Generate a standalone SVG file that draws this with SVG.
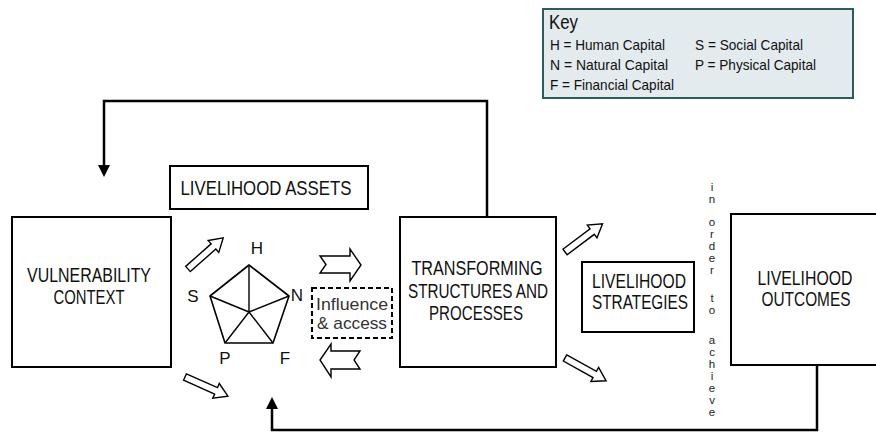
<svg xmlns="http://www.w3.org/2000/svg" xmlns:xlink="http://www.w3.org/1999/xlink" width="876" height="432" viewBox="0 0 876 432">
<style>
.box{fill:#fff;stroke:#000;stroke-width:2}
.lbl{font-family:"Liberation Sans",Arial,sans-serif;font-size:21px;fill:#111;text-anchor:middle}
.key{font-family:"Liberation Sans",Arial,sans-serif;font-size:14.5px;fill:#111}
.cap{font-family:"Liberation Sans",Arial,sans-serif;font-size:17px;fill:#111;text-anchor:middle}
.vt{font-family:"Liberation Sans",Arial,sans-serif;font-size:11.5px;fill:#1e1e1e;writing-mode:vertical-rl;text-orientation:upright}
.ha{fill:#fff;stroke:#000;stroke-width:1.4;stroke-linejoin:miter}
.fb{fill:none;stroke:#000;stroke-width:2.5}
</style>
<defs>
<polygon id="harrow" points="0,-3.5 34,-3.5 34,-8 47,0 34,8 34,3.5 0,3.5"/>
</defs>
<g id="key">
<rect x="543" y="9" width="310" height="89" fill="#e3ebee" stroke="#2e5c5c" stroke-width="2"/>
<text x="549" y="29" class="key" style="font-size:21px" textLength="29" lengthAdjust="spacingAndGlyphs">Key</text>
<text x="550" y="50" class="key" textLength="115" lengthAdjust="spacingAndGlyphs">H = Human Capital</text>
<text x="695" y="50" class="key" textLength="108" lengthAdjust="spacingAndGlyphs">S = Social Capital</text>
<text x="550" y="70" class="key" textLength="118" lengthAdjust="spacingAndGlyphs">N = Natural Capital</text>
<text x="695" y="70" class="key" textLength="121" lengthAdjust="spacingAndGlyphs">P = Physical Capital</text>
<text x="550" y="90" class="key" textLength="124" lengthAdjust="spacingAndGlyphs">F = Financial Capital</text>
</g>
<g id="connectors">
<path class="fb" d="M487,217 V101 H104 V166"/>
<polygon points="98,165 110,165 104,177" fill="#000"/>
<path class="fb" d="M817,365 V430 H272 V408"/>
<polygon points="266,409 278,409 272,397" fill="#000"/>
<use xlink:href="#harrow" class="ha" transform="translate(188,269) rotate(-41.5)"/>
<use xlink:href="#harrow" class="ha" transform="translate(185,377) rotate(24)"/>
<use xlink:href="#harrow" class="ha" transform="translate(565,252) rotate(-37)"/>
<use xlink:href="#harrow" class="ha" transform="translate(565,358) rotate(29)"/>
<polygon class="ha" points="320,256 350,256 350,249 361,265 350,281 350,273 320,273 326,264.5"/>
<polygon class="ha" points="360,351 331,351 331,344 320,360 331,377 331,369 360,369 354,360"/>
</g>
<g id="vulnerability">
<rect class="box" x="12" y="217" width="159" height="150"/>
<text class="lbl" x="89" y="282" textLength="124" lengthAdjust="spacingAndGlyphs">VULNERABILITY</text>
<text class="lbl" x="89" y="304" textLength="71" lengthAdjust="spacingAndGlyphs">CONTEXT</text>
</g>
<g id="assets">
<rect class="box" x="170" y="166" width="198" height="43"/>
<text class="lbl" x="266" y="195" textLength="171" lengthAdjust="spacingAndGlyphs">LIVELIHOOD  ASSETS</text>
</g>
<g id="pentagon">
<polygon points="249,265 289,296 273,343 225,343 210,296" fill="none" stroke="#000" stroke-width="1.6" stroke-linejoin="round"/>
<path d="M249,312 L249,265 M249,312 L289,296 M249,312 L273,343 M249,312 L225,343 M249,312 L210,296" stroke="#000" stroke-width="1.4" fill="none"/>
<text class="cap" x="257" y="254">H</text>
<text class="cap" x="297" y="301">N</text>
<text class="cap" x="193" y="302">S</text>
<text class="cap" x="225" y="364">P</text>
<text class="cap" x="285" y="364">F</text>
</g>
<g id="influence">
<rect x="312" y="288" width="80" height="50" fill="#fff" stroke="#000" stroke-width="2" stroke-dasharray="5,3"/>
<text class="cap" x="352" y="310" style="fill:#333" textLength="72" lengthAdjust="spacingAndGlyphs">Influence</text>
<text class="cap" x="352" y="329" style="fill:#333" textLength="70" lengthAdjust="spacingAndGlyphs">&amp; access</text>
</g>
<g id="transforming">
<rect class="box" x="400" y="217" width="156" height="150"/>
<text class="lbl" x="477" y="275" textLength="131" lengthAdjust="spacingAndGlyphs">TRANSFORMING</text>
<text class="lbl" x="478" y="298" textLength="140" lengthAdjust="spacingAndGlyphs">STRUCTURES AND</text>
<text class="lbl" x="476" y="320" textLength="94" lengthAdjust="spacingAndGlyphs">PROCESSES</text>
</g>
<g id="strategies">
<rect class="box" x="582" y="262" width="112" height="70"/>
<text class="lbl" x="639" y="288" textLength="94" lengthAdjust="spacingAndGlyphs">LIVELIHOOD</text>
<text class="lbl" x="640" y="309" textLength="96" lengthAdjust="spacingAndGlyphs">STRATEGIES</text>
</g>
<g id="inorder">
<text class="vt" x="712" y="180.5">in</text>
<text class="vt" x="712" y="215.5">order</text>
<text class="vt" x="712" y="292">to</text>
<text class="vt" x="712" y="334">achieve</text>
</g>
<g id="outcomes">
<rect class="box" x="731" y="214" width="147" height="151"/>
<text class="lbl" x="805" y="285" textLength="95" lengthAdjust="spacingAndGlyphs">LIVELIHOOD</text>
<text class="lbl" x="806" y="306" textLength="89" lengthAdjust="spacingAndGlyphs">OUTCOMES</text>
</g>
</svg>
